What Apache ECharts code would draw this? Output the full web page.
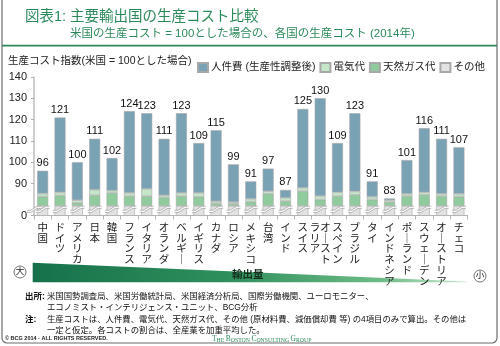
<!DOCTYPE html>
<html><head><meta charset="utf-8">
<script src="https://cdn.jsdelivr.net/npm/echarts@6/dist/echarts.min.js"></script>
<style>html,body{margin:0;padding:0;background:#fff}#c{width:500px;height:346px}</style>
</head><body><div id="c"></div>
<script>
const countries = ['中国','ドイツ','アメリカ','日本','韓国','フランス','イタリア','オランダ','ベルギー','イギリス','カナダ','ロシア','メキシコ','台湾','インド','スイス','オーストラリア','スペイン','ブラジル','タイ','インドネシア','ポーランド','スウェーデン','オーストリア','チェコ'];
const totals = [96,121,100,111,102,124,123,111,123,109,115,99,91,97,87,125,130,109,123,91,83,101,116,111,107];
// segment heights in broken-axis display units
const otherCost = [79.5,79.5,79.5,79.5,79.5,79.5,79.5,79.5,79.5,79.5,79.5,79.5,79.5,79.5,79.5,79.5,79.5,79.5,79.5,79.5,79.5,79.5,79.5,79.5,79.5];
const gasCost = [4.4,4.9,1.5,5.0,6.1,4.6,4.6,4.0,4.6,4.3,1.2,1.0,2.0,5.7,2.2,6.9,3.0,4.6,5.2,3.0,1.8,4.6,5.2,4.6,4.4];
const elecCost = [1.4,1.5,1.2,2.6,1.1,1.5,3.4,1.0,1.5,1.8,1.0,0.8,1.3,1.2,1.6,1.6,1.6,1.8,1.6,1.3,0.9,1.1,1.2,1.1,1.3];
const laborCost = [10.7,35.1,17.8,23.9,15.3,38.4,35.5,26.5,37.4,23.4,33.3,17.7,8.2,10.6,3.7,37.0,45.9,23.1,36.7,7.2,0.8,15.8,30.1,25.8,21.8];
const yTicks = [75,90,100,110,120,130,140];
const seriesNames = ['人件費 (生産性調整後)','電気代','天然ガス代','その他'];

const FONT = '"Liberation Sans", "Noto Sans CJK JP", sans-serif';
const GREEN = '#2b8a5a';
const chart = echarts.init(document.getElementById('c'), null, {renderer:'canvas'});
const border = {borderColor:'#a8a8a8', borderWidth:0.6};

function verticalLabel(v){
  const s = v.replace(/ー/g,'｜').split('');
  if (s.length <= 6) return s.join('\n');
  // two vertical columns, read right column first
  const c1 = s.slice(0,4), c2 = s.slice(4);
  const rows = [];
  for (let r = 0; r < c1.length; r++) rows.push((c2[r] || '　') + c1[r]);
  return rows.join('\n');
}

function breakMark(params, api){
  const i = api.value(0);
  const p = api.coord([i, 77.4]);
  const bw = api.size([1,0])[0];
  const cx = p[0], cy = p[1];
  const mk = (x0)=>{
    const a = [[x0-7,cy+2],[x0-3,cy+2],[x0+3,cy-2],[x0+7,cy-2]];
    const b = a.map(q=>[q[0],q[1]-2.2]);
    return [
      {type:'polygon', shape:{points:a.concat(b.slice().reverse())}, style:{fill:'#fff', stroke:null}},
      {type:'polyline', shape:{points:a}, style:{stroke:'#9a9a9a', lineWidth:0.7, fill:null}},
      {type:'polyline', shape:{points:b}, style:{stroke:'#9a9a9a', lineWidth:0.7, fill:null}}
    ];
  };
  let children = mk(cx);
  if (i === 0) children = children.concat(mk(cx - bw/2));
  return {type:'group', children};
}

const option = {
  animation:false,
  textStyle:{fontFamily:FONT},
  grid:{left:34, right:32.4, top:77, bottom:130.5, containLabel:false},
  legend:{
    data:seriesNames, left:192, top:57, itemWidth:10, itemHeight:9, itemGap:4,
    icon:'rect', textStyle:{fontSize:10.5, color:'#222', fontFamily:FONT, padding:[0,0,0,-2]},
    selectedMode:false
  },
  xAxis:{
    type:'category', data:countries,
    axisLine:{lineStyle:{color:'#b5b5b5', width:1}},
    axisTick:{show:true, length:4, lineStyle:{color:'#b5b5b5'}},
    axisLabel:{
      interval:0, margin:7, fontSize:10.5, lineHeight:10.8, color:'#222', fontFamily:FONT,
      verticalAlign:'top', formatter:verticalLabel
    }
  },
  yAxis:{
    type:'value', min:75, max:140,
    splitLine:{show:false},
    axisLine:{show:true, lineStyle:{color:'#c4c4c4', width:1.6}},
    axisTick:{show:true, length:3, customValues:yTicks, lineStyle:{color:'#b0b0b0'}},
    axisLabel:{customValues:yTicks, fontSize:11, color:'#222', margin:7,
      formatter:v=> v===75 ? '0' : String(v)}
  },
  series:[
    {name:seriesNames[3], type:'bar', stack:'s', data:otherCost, barWidth:11,
      itemStyle:Object.assign({color:'#e2e2e2'}, border)},
    {name:seriesNames[2], type:'bar', stack:'s', data:gasCost,
      itemStyle:Object.assign({color:'#8fcb9c'}, border)},
    {name:seriesNames[1], type:'bar', stack:'s', data:elecCost,
      itemStyle:Object.assign({color:'#c6e6ca'}, border)},
    {name:seriesNames[0], type:'bar', stack:'s', data:laborCost,
      itemStyle:Object.assign({color:'#79a2b5'}, border),
      label:{show:true, position:'top', distance:2, fontSize:11, color:'#111', fontFamily:FONT,
        formatter:p=>String(totals[p.dataIndex])}},
    {type:'custom', renderItem:breakMark, data:countries.map((c,i)=>[i]), z:10, silent:true}
  ],
  graphic:[
    {type:'rect', shape:{x:2, y:-6, width:495, height:349, r:5}, style:{fill:null, stroke:'#6d6d6d', lineWidth:1.2}, z:-1},
    {type:'text', left:25, top:9.5, style:{text:'図表1: 主要輸出国の生産コスト比較', font:'14.5px '+FONT, fill:GREEN}},
    {type:'text', left:70, top:28.5, style:{text:'米国の生産コスト = 100とした場合の、各国の生産コスト (2014年)', font:'11.5px '+FONT, fill:GREEN}},
    {type:'rect', shape:{x:2, y:44.8, width:495, height:1.8}, style:{fill:'#2d8a5a'}},
    {type:'text', left:8, top:56, style:{text:'生産コスト指数(米国 = 100とした場合)', font:'10.5px '+FONT, fill:'#222'}},
    {type:'polygon', shape:{points:[[32.7,262.7],[466,281.6],[466,282.3],[32.7,282.3]]},
      style:{fill:new echarts.graphic.LinearGradient(0,0,1,0,[
        {offset:0,color:'#16714a'},{offset:0.45,color:'#2f8f5c'},{offset:0.8,color:'#6dbb86'},{offset:1,color:'#c6e7cc'}])}},
    {type:'text', left:232, top:270, style:{text:'輸出量', font:'bold 10.5px '+FONT, fill:'#14311f'}},
    {type:'circle', shape:{cx:20, cy:272, r:6}, style:{fill:'#fff', stroke:'#555', lineWidth:0.8}},
    {type:'text', x:20, y:272, style:{text:'大', font:'8.5px '+FONT, fill:'#222', align:'center', verticalAlign:'middle'}},
    {type:'circle', shape:{cx:480, cy:276, r:6}, style:{fill:'#fff', stroke:'#555', lineWidth:0.8}},
    {type:'text', x:480, y:276, style:{text:'小', font:'8.5px '+FONT, fill:'#222', align:'center', verticalAlign:'middle'}},
    {type:'text', left:25, top:292, style:{text:'出所:', font:'bold 8.5px '+FONT, fill:'#111'}},
    {type:'text', left:47, top:292, style:{text:'米国国勢調査局、米国労働統計局、米国経済分析局、国際労働機関、ユーロモニター、', font:'8.4px '+FONT, fill:'#111'}},
    {type:'text', left:47, top:303.5, style:{text:'エコノミスト・インテリジェンス・ユニット、BCG分析', font:'8.4px '+FONT, fill:'#111'}},
    {type:'text', left:25, top:315, style:{text:'注:', font:'bold 8.5px '+FONT, fill:'#111'}},
    {type:'text', left:47, top:315, style:{text:'生産コストは、人件費、電気代、天然ガス代、その他 (原材料費、減価償却費 等) の4項目のみで算出。その他は', font:'8.4px '+FONT, fill:'#111'}},
    {type:'text', left:47, top:326.5, style:{text:'一定と仮定。各コストの割合は、全産業を加重平均した。', font:'8.4px '+FONT, fill:'#111'}},
    {type:'text', left:5, top:336, style:{text:'© BCG 2014 - ALL RIGHTS RESERVED.', font:'bold 5.5px '+FONT, fill:'#222'}},
    {type:'text', left:212, top:335, style:{
      text:'{b|T}{s|HE }{b|B}{s|OSTON }{b|C}{s|ONSULTING }{b|G}{s|ROUP}',
      rich:{b:{fontSize:7.5, fontFamily:'"Liberation Serif", serif', fill:GREEN, verticalAlign:'bottom'},
            s:{fontSize:5.8, fontFamily:'"Liberation Serif", serif', fill:GREEN, verticalAlign:'bottom'}}}}
  ]
};
chart.setOption(option);
</script></body></html>
